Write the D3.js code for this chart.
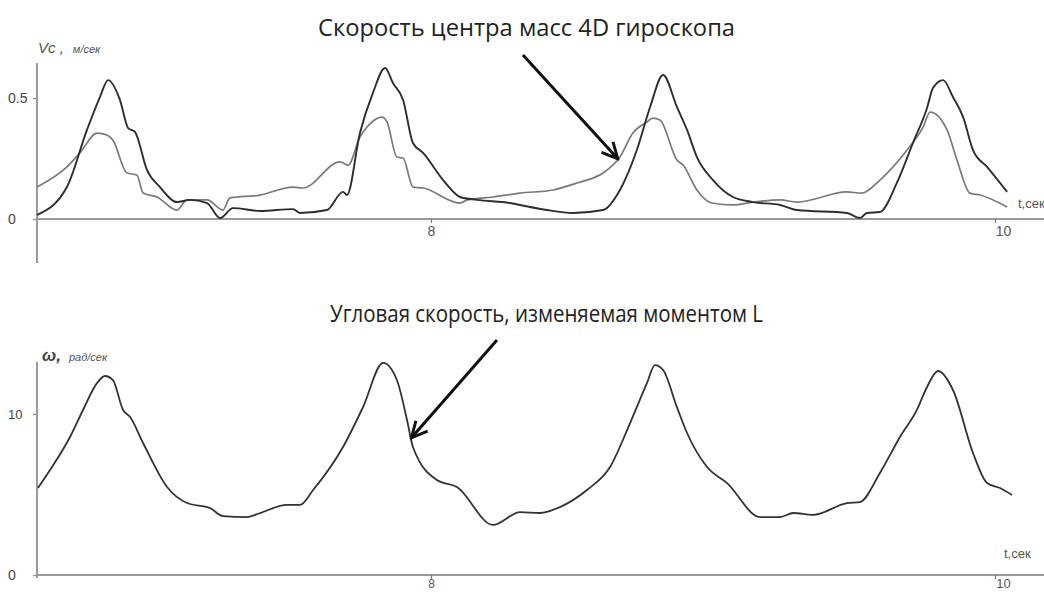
<!DOCTYPE html>
<html>
<head>
<meta charset="utf-8">
<script src="https://cdn.jsdelivr.net/npm/d3@7"></script>
<style>
  body { margin: 0; background: #fff; }
  svg { display: block; }
</style>
</head>
<body>
<svg id="chart" width="1044" height="592"></svg>
<script>
"use strict";

// top panel: centre-of-mass speed, two traces (t in s, v in m/s)
var tDark = [6.603, 6.709, 6.780, 6.826, 6.855, 6.897, 6.926, 6.950, 6.993, 7.039, 7.099, 7.145, 7.206, 7.252, 7.298, 7.394,
  7.511, 7.535, 7.631, 7.688, 7.702, 7.748, 7.794, 7.837, 7.865, 7.901, 7.936, 7.972, 8.043, 8.103, 8.163, 8.280,
  8.316, 8.411, 8.504, 8.610, 8.670, 8.730, 8.777, 8.823, 8.872, 8.908, 8.943, 9.000, 9.071, 9.142, 9.238, 9.298,
  9.475, 9.521, 9.546, 9.592, 9.652, 9.709, 9.759, 9.780, 9.816, 9.851, 9.887, 9.922, 9.972, 10.043];
var vDark = [0.017, 0.132, 0.368, 0.504, 0.574, 0.492, 0.376, 0.360, 0.202, 0.132, 0.070, 0.079, 0.066, 0.004, 0.045, 0.033,
  0.041, 0.025, 0.037, 0.112, 0.099, 0.355, 0.521, 0.624, 0.562, 0.492, 0.314, 0.273, 0.161, 0.091, 0.079, 0.066,
  0.058, 0.037, 0.025, 0.037, 0.120, 0.285, 0.463, 0.595, 0.463, 0.368, 0.256, 0.161, 0.091, 0.070, 0.058, 0.037,
  0.025, 0.004, 0.025, 0.029, 0.149, 0.314, 0.459, 0.541, 0.574, 0.504, 0.421, 0.285, 0.215, 0.112];

var tLight = [6.603, 6.709, 6.755, 6.816, 6.851, 6.872, 6.922, 6.957, 6.979, 7.028, 7.099, 7.135, 7.206, 7.262, 7.287, 7.394,
  7.511, 7.546, 7.677, 7.706, 7.748, 7.773, 7.826, 7.844, 7.879, 7.901, 7.936, 7.972, 8.103, 8.128, 8.220, 8.316,
  8.433, 8.518, 8.610, 8.670, 8.716, 8.766, 8.787, 8.812, 8.872, 8.894, 8.943, 8.996, 9.071, 9.142, 9.238, 9.298,
  9.475, 9.528, 9.592, 9.688, 9.745, 9.770, 9.830, 9.865, 9.911, 9.947, 10.043];
var vLight = [0.132, 0.215, 0.273, 0.355, 0.347, 0.326, 0.190, 0.182, 0.107, 0.091, 0.037, 0.079, 0.079, 0.037, 0.087, 0.099,
  0.132, 0.128, 0.236, 0.223, 0.339, 0.380, 0.421, 0.401, 0.256, 0.252, 0.132, 0.128, 0.066, 0.079, 0.091, 0.107,
  0.120, 0.149, 0.190, 0.256, 0.355, 0.401, 0.417, 0.409, 0.244, 0.223, 0.120, 0.066, 0.058, 0.070, 0.079, 0.070,
  0.112, 0.107, 0.161, 0.285, 0.380, 0.442, 0.368, 0.244, 0.107, 0.099, 0.050];

// bottom panel: angular speed (rad/s)
var tOmega = [6.606, 6.649, 6.720, 6.766, 6.816, 6.844, 6.872, 6.908, 6.933, 6.979, 7.064, 7.135, 7.216, 7.262, 7.348, 7.394,
  7.489, 7.535, 7.582, 7.688, 7.759, 7.830, 7.879, 7.915, 7.936, 8.021, 8.092, 8.220, 8.316, 8.387, 8.457, 8.553,
  8.635, 8.706, 8.766, 8.794, 8.823, 8.872, 8.908, 8.979, 9.050, 9.167, 9.238, 9.284, 9.355, 9.475, 9.521, 9.592,
  9.663, 9.723, 9.759, 9.798, 9.851, 9.922, 9.972, 10.018, 10.060];
var omega = [5.40, 6.52, 8.57, 10.25, 11.93, 12.36, 12.11, 10.25, 9.81, 8.20, 5.47, 4.47, 4.16, 3.66, 3.60, 3.85,
  4.35, 4.35, 5.28, 7.95, 10.43, 13.17, 12.11, 9.63, 7.95, 5.90, 5.47, 3.11, 3.91, 3.85, 4.22, 5.28,
  6.71, 9.44, 11.93, 13.04, 12.73, 10.43, 8.82, 6.71, 5.71, 3.60, 3.60, 3.85, 3.73, 4.47, 4.53, 6.34,
  8.57, 10.25, 11.68, 12.67, 11.49, 7.58, 5.71, 5.40, 4.97];

var xTicks = [8, 10];
var vTicks = [0, 0.5];
var wTicks = [0, 10];

var titles = ["Скорость центра масс 4D гироскопа", "Угловая скорость, изменяемая моментом L"];
// arrow [tail, tip] in data units
var arrowTop = [[8.326, 0.678], [8.660, 0.252]];
var arrowBottom = [[8.234, 14.6], [7.933, 8.57]];

var svg = d3.select("#chart");
var axisColor = "#9a9a9a";
var labelFont = "'Liberation Sans', Arial, sans-serif";

var x = d3.scaleLinear().domain([8, 10]).range([431, 995]);
var yTop = d3.scaleLinear().domain([0, 0.5]).range([219, 98]);
var yBot = d3.scaleLinear().domain([0, 10]).range([575, 414]);

var defs = svg.append("defs");
defs.append("marker")
  .attr("id", "head")
  .attr("viewBox", "0 0 10 10")
  .attr("refX", 8.5).attr("refY", 5)
  .attr("markerWidth", 6.5).attr("markerHeight", 6.5)
  .attr("orient", "auto")
  .append("path")
  .attr("d", "M1,1 L9,5 L1,9")
  .attr("fill", "none")
  .attr("stroke", "#111")
  .attr("stroke-width", 1.5);

function panel(y, yTicks, fmt, axisTop, axisBottom, xFont, xPad) {
  var g = svg.append("g");
  // axis lines
  g.append("line")
    .attr("x1", 37).attr("x2", 37)
    .attr("y1", axisTop).attr("y2", axisBottom)
    .attr("stroke", axisColor).attr("stroke-width", 2);
  g.append("line")
    .attr("x1", 37).attr("x2", 1044)
    .attr("y1", y(0)).attr("y2", y(0))
    .attr("stroke", axisColor).attr("stroke-width", 2);

  var ya = g.append("g")
    .attr("transform", "translate(37,0)")
    .call(d3.axisLeft(y).tickValues(yTicks).tickSize(4).tickPadding(6).tickFormat(fmt));
  ya.select(".domain").remove();
  ya.selectAll("line").attr("stroke", axisColor).attr("stroke-width", 1.5);
  ya.selectAll("text")
    .attr("x", -29).attr("text-anchor", "start")
    .attr("fill", "#444")
    .style("font-family", labelFont)
    .style("font-size", "14px");

  var xa = g.append("g")
    .attr("transform", "translate(0," + y(0) + ")")
    .call(d3.axisBottom(x).tickValues(xTicks).tickSize(4).tickPadding(xPad).tickFormat(d3.format("d")));
  xa.select(".domain").remove();
  xa.selectAll("line").attr("stroke", "#777").attr("stroke-width", 1.2);
  xa.selectAll("text")
    .attr("fill", "#555")
    .attr("dx", (d) => (d === 10 ? 8 : 0))
    .style("font-family", labelFont)
    .style("font-size", xFont);
  return g;
}

function series(g, ts, vs, y, color, width) {
  var pts = ts.map((t, i) => [t, vs[i]]);
  g.append("path")
    .datum(pts)
    .attr("fill", "none")
    .attr("stroke", color)
    .attr("stroke-width", width)
    .attr("stroke-linejoin", "round")
    .attr("d", d3.line()
      .x((d) => x(d[0]))
      .y((d) => y(d[1]))
      .curve(d3.curveMonotoneX));
}

function arrow(a, y) {
  svg.append("line")
    .attr("x1", x(a[0][0])).attr("y1", y(a[0][1]))
    .attr("x2", x(a[1][0])).attr("y2", y(a[1][1]))
    .attr("stroke", "#111")
    .attr("stroke-width", 3)
    .attr("marker-end", "url(#head)");
}

function title(txt, xl, xr, base) {
  svg.append("text")
    .attr("x", xl).attr("y", base)
    .attr("textLength", xr - xl)
    .attr("lengthAdjust", "spacingAndGlyphs")
    .attr("fill", "#222")
    .style("font-family", "'Open Sans', 'Noto Sans', sans-serif")
    .style("font-size", "23px")
    .text(txt);
}

// ---- top panel
var gTop = panel(yTop, vTicks, (d) => (d === 0 ? "0" : d3.format(".1f")(d)), 63, 263, "14px", 3);
series(gTop, tLight, vLight, yTop, "#7a7a7a", 1.7);
series(gTop, tDark, vDark, yTop, "#2e2e2e", 1.9);

var vl = svg.append("text")
  .attr("x", 38).attr("y", 53)
  .attr("fill", "#555")
  .style("font-family", labelFont)
  .style("font-style", "italic");
vl.append("tspan").style("font-size", "15px").text("Vc ,");
vl.append("tspan").attr("dx", 9).style("font-size", "11px").text("м/сек");

svg.append("text")
  .attr("x", 1018).attr("y", 208)
  .attr("fill", "#555")
  .style("font-family", labelFont)
  .style("font-size", "13px")
  .text("t,сек");

// ---- bottom panel
var gBot = panel(yBot, wTicks, d3.format("d"), 362, 578, "12px", 0);
gBot.selectAll(".tick text").filter((d) => d === 10).style("font-size", "13px");
series(gBot, tOmega, omega, yBot, "#333", 1.8);

var wl = svg.append("text")
  .attr("x", 42).attr("y", 361)
  .attr("fill", "#444")
  .style("font-family", labelFont)
  .style("font-style", "italic");
wl.append("tspan").style("font-size", "17px").style("font-weight", "bold").text("ω,");
wl.append("tspan").attr("dx", 8).style("font-size", "11px").attr("fill", "#555").text("рад/сек");

svg.append("text")
  .attr("x", 1004).attr("y", 558)
  .attr("fill", "#555")
  .style("font-family", labelFont)
  .style("font-size", "13px")
  .text("t,сек");

// ---- titles and arrows
title(titles[0], 318, 735, 36);
title(titles[1], 330, 763, 322);
arrow(arrowTop, yTop);
arrow(arrowBottom, yBot);
</script>
</body>
</html>
